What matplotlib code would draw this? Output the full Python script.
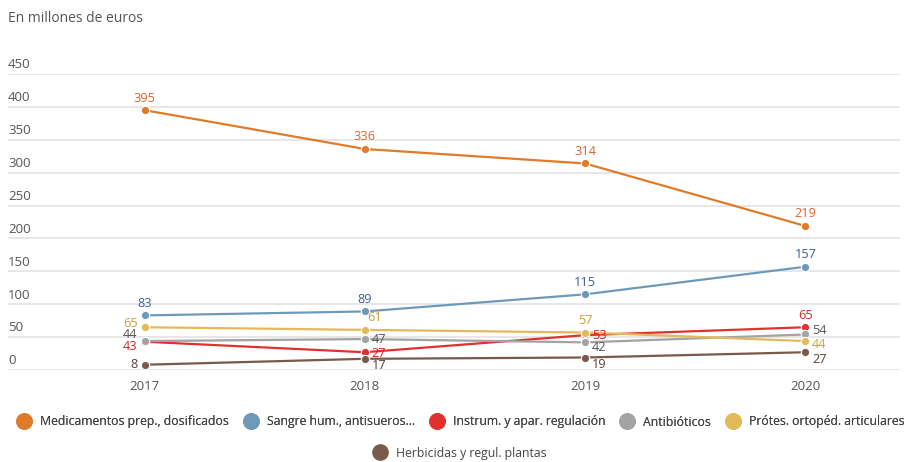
import matplotlib
matplotlib.use("Agg")
import matplotlib.pyplot as plt
from matplotlib.lines import Line2D
import matplotlib.transforms as mtrans

plt.rcParams['font.family'] = ['Open Sans', 'DejaVu Sans']

years = [2017, 2018, 2019, 2020]
series_names = ["Medicamentos prep., dosificados", "Sangre hum., antisueros...",
                "Instrum. y apar. regulación", "Antibióticos",
                "Prótes. ortopéd. articulares", "Herbicidas y regul. plantas"]
medicamentos = [395, 336, 314, 219]
sangre = [83, 89, 115, 157]
instrum = [43, 27, 53, 65]
antibioticos = [44, 47, 42, 54]
protes = [65, 61, 57, 44]
herbicidas = [8, 17, 19, 27]
yticks = [0, 50, 100, 150, 200, 250, 300, 350, 400, 450]

values = [medicamentos, sangre, instrum, antibioticos, protes, herbicidas]
line_colors = ['#E07B2A', '#6E9AB9', '#E0312D', '#A3A3A6', '#E2BA5A', '#7A5A4B']
label_colors = ['#D9652A', '#3F5F9A', '#C72A26', '#555555', '#C9A03E', '#5A4236']
# label offsets (points) and alignments per point
offsets = [
    [((0, 4), 'center', 'bottom')] * 4,
    [((0, 4), 'center', 'bottom')] * 4,
    [((-5, -3.8), 'right', 'center'), ((5, -1), 'left', 'center'), ((5, 0), 'left', 'center'), ((0, 4), 'center', 'bottom')],
    [((-5, 4.8), 'right', 'center'), ((5, 0), 'left', 'center'), ((5, -4), 'left', 'center'), ((5, 2.8), 'left', 'center')],
    [((-5, 3), 'right', 'center'), ((2, 4), 'left', 'bottom'), ((0, 4), 'center', 'bottom'), ((5, -2.5), 'left', 'center')],
    [((-5, 0), 'right', 'center'), ((5, -5), 'left', 'center'), ((5, -5), 'left', 'center'), ((5, -5), 'left', 'center')],
]

W, H = 906, 462
fig = plt.figure(figsize=(W / 100, H / 100), dpi=100)
ax = fig.add_axes([8 / W, (H - 370) / H, (900 - 8) / W, (370 - 74) / H])
ax.set_ylim(0, 450)
ax.set_xlim(2016.38, 2020.43)
for s in ax.spines.values():
    s.set_visible(False)
ax.set_yticks(yticks)
ax.yaxis.grid(True, color='#E3E3E3', linewidth=1.2)
ax.tick_params(axis='y', length=0, labelleft=False)
ax.set_xticks(years)
ax.set_xticklabels([str(y) for y in years])
ax.tick_params(axis='x', length=0, pad=7, labelsize=9.5, labelcolor='#555555')
ax.set_axisbelow(True)

trans = mtrans.blended_transform_factory(ax.transAxes, ax.transData)
for v in yticks:
    ax.text(0.0, v + 4, str(v), transform=trans, ha='left', va='bottom',
            fontsize=9.5, color='#555555')

for name, vals, lc, tc, offs in zip(series_names, values, line_colors, label_colors, offsets):
    ax.plot(years, vals, color=lc, lw=1.6, marker='o', ms=6, mec='white', mew=0.8, zorder=3)
    for x, y, (off, ha, va) in zip(years, vals, offs):
        ax.annotate(str(y), (x, y), xytext=off, textcoords='offset points',
                    ha=ha, va=va, fontsize=9.2, color=tc, zorder=4)

fig.text(8 / W, 1 - 18 / H, "En millones de euros", ha='left', va='center',
         fontsize=10, color='#555555')

def handle(c):
    return Line2D([], [], marker='o', ls='', ms=11, color=c)

leg1 = fig.legend([handle(c) for c in line_colors[:5]], series_names[:5], ncol=5,
                  loc='center', bbox_to_anchor=(0.509, 1 - 422 / H), frameon=False,
                  fontsize=8.8, labelcolor='#444444', handletextpad=0.8, columnspacing=1.3,
                  handlelength=1.0)
fig.add_artist(leg1)
fig.legend([handle(line_colors[5])], series_names[5:], ncol=1,
           loc='center', bbox_to_anchor=(0.508, 1 - 453 / H), frameon=False,
           fontsize=8.8, labelcolor='#444444', handletextpad=0.8, handlelength=1.0)

fig.savefig("out.png", dpi=100)
